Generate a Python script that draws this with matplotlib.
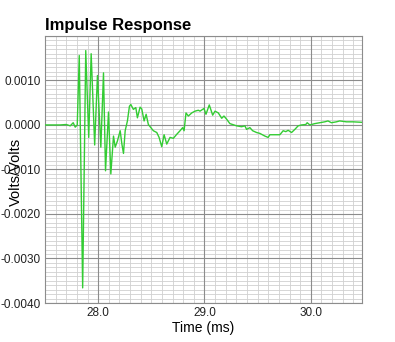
import numpy as np
import matplotlib.pyplot as plt
from matplotlib.ticker import MultipleLocator, FormatStrFormatter

plt.rcParams['font.family'] = ['Liberation Sans', 'DejaVu Sans']

# impulse response trace, time in ms, amplitude in mV (converted below)
time_ms = [27.502, 27.643, 27.700, 27.737, 27.765, 27.784, 27.803, 27.822,
           27.854, 27.883, 27.911, 27.934, 27.967, 27.993, 28.025, 28.050,
           28.069, 28.097, 28.119, 28.144, 28.160, 28.181, 28.207, 28.223,
           28.238, 28.254, 28.275, 28.294, 28.307, 28.331, 28.354, 28.369,
           28.394, 28.410, 28.432, 28.451, 28.472, 28.519, 28.551, 28.573,
           28.598, 28.620, 28.645, 28.676, 28.707, 28.739, 28.770, 28.795,
           28.808, 28.826, 28.848, 28.880, 28.911, 28.942, 28.958, 28.995,
           29.014, 29.045, 29.077, 29.099, 29.130, 29.162, 29.183, 29.208,
           29.239, 29.302, 29.349, 29.380, 29.396, 29.427, 29.453, 29.490,
           29.521, 29.568, 29.599, 29.615, 29.662, 29.709, 29.740, 29.765,
           29.787, 29.819, 29.850, 29.881, 29.913, 29.953, 29.966, 29.991,
           30.038, 30.085, 30.131, 30.162, 30.194, 30.241, 30.272, 30.335,
           30.397, 30.476]
volts_mv = [0.00, 0.00, 0.01, -0.02, 0.05, -0.05, 0.00, 1.56,
            -3.66, 1.67, -0.28, 1.60, -0.45, 1.11, -0.50, 1.17,
            -1.03, 0.29, -1.10, -0.25, -0.50, -0.36, -0.13, -0.43,
            -0.64, -0.13, 0.09, 0.42, 0.46, 0.35, 0.39, 0.16,
            0.40, 0.36, 0.09, 0.24, 0.01, -0.13, -0.17, -0.28,
            -0.49, -0.22, -0.43, -0.28, -0.30, -0.21, -0.13, -0.06,
            -0.13, 0.27, 0.20, 0.27, 0.31, 0.33, 0.31, 0.37,
            0.24, 0.45, 0.22, 0.31, 0.27, 0.15, 0.20, 0.13,
            0.03, -0.02, -0.04, -0.02, -0.10, -0.06, -0.13, -0.17,
            -0.19, -0.25, -0.28, -0.22, -0.22, -0.22, -0.13, -0.15,
            -0.12, -0.17, -0.10, -0.02, 0.00, 0.01, 0.05, 0.00,
            0.03, 0.05, 0.07, 0.09, 0.05, 0.07, 0.09, 0.07,
            0.07, 0.06]

volts = np.array(volts_mv) / 1000.0

xmin, xmax = 27.5, 30.48
ymin, ymax = -0.004, 0.002

fig = plt.figure(figsize=(3.95, 3.42), dpi=100)
ax = fig.add_axes([0.114, 0.114, 0.802, 0.781])

# fine grid drawn by hand so the major lines stay on top of it
ax.vlines(np.arange(27.5, 30.5, 0.1), ymin, ymax, color='#d0d0d0', lw=0.6, zorder=0.1)
ax.hlines(np.arange(-0.004, 0.00201, 0.0001), xmin, xmax, color='#d0d0d0', lw=0.6, zorder=0.1)

ax.plot(time_ms, volts, color='#33cc33', lw=1.0, zorder=3)

ax.set_xlim(xmin, xmax)
ax.set_ylim(ymin, ymax)
ax.xaxis.set_major_locator(MultipleLocator(1.0))
ax.yaxis.set_major_locator(MultipleLocator(0.001))
ax.xaxis.set_major_formatter(FormatStrFormatter('%.1f'))
ax.yaxis.set_major_formatter(FormatStrFormatter('%.4f'))

ax.grid(which='major', color='#8c8c8c', lw=0.8)
ax.set_axisbelow(True)
ax.tick_params(which='both', length=0, labelsize=8.5, colors='#222222', pad=3)
for s in ax.spines.values():
    s.set_color('#8c8c8c')
    s.set_linewidth(0.8)
# hide the label at the top edge (0.0020)
for lbl, v in zip(ax.get_yticklabels(), ax.get_yticks()):
    if v > 0.0015:
        lbl.set_visible(False)

ax.set_title('Impulse Response', loc='left', fontweight='bold', fontsize=12, pad=4)
ax.set_xlabel('Time (ms)', fontsize=10, labelpad=1)
ax.set_ylabel('Volts/Volts', fontsize=10.5)
ax.yaxis.set_label_coords(-0.07, 0.49)

fig.savefig('out.png', dpi=100)
